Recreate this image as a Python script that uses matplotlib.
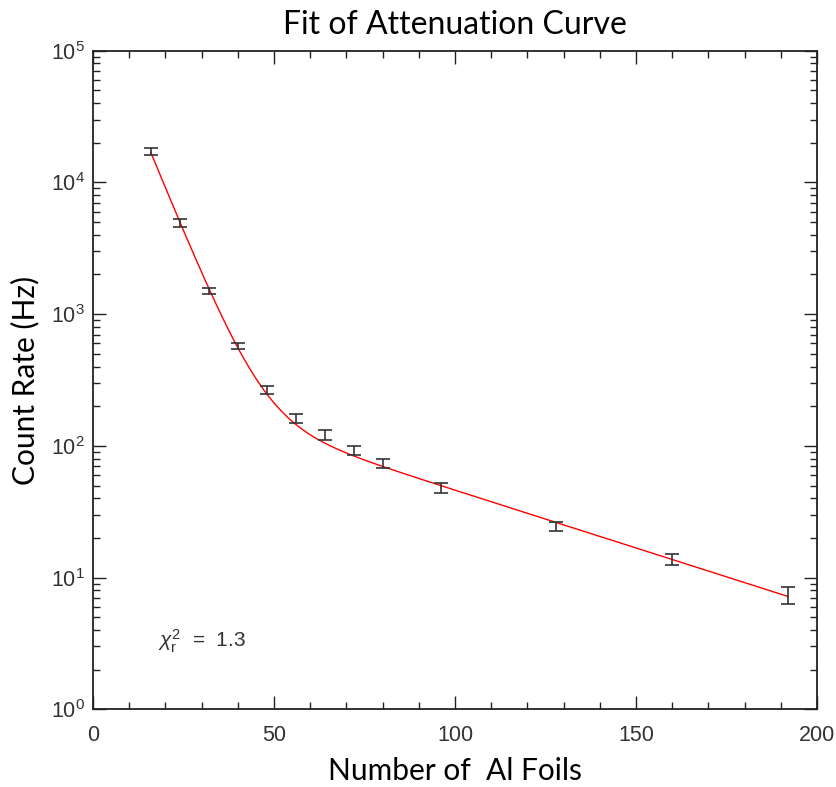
import numpy as np
import matplotlib
matplotlib.use("Agg")
import matplotlib.pyplot as plt
from matplotlib.ticker import LogLocator, MultipleLocator, FuncFormatter, NullFormatter

plt.rcParams["mathtext.fontset"] = "custom"
plt.rcParams["mathtext.rm"] = "Liberation Sans"
plt.rcParams["mathtext.it"] = "Liberation Sans:italic"
plt.rcParams["mathtext.default"] = "regular"

# Data
foils = np.array([16, 24, 32, 40, 48, 56, 64, 72, 80, 96, 128, 160, 192])
rate = np.array([17300, 4920, 1500, 573, 265, 163, 121, 93, 74, 47.9, 24.6, 13.8, 7.4])
rate_err = np.array([1100, 350, 80, 30, 18, 13, 10, 7.5, 6, 4, 2, 1.3, 1.1])

x_ticks = [0, 50, 100, 150, 200]
chi_label = r"$\mathit{\chi}^{2}_{r}$  =  1.3"

# Double-exponential fit by peeling (derived from the data)
tail = foils >= 80
s2, b2 = np.polyfit(foils[tail], np.log(rate[tail]), 1)
comp2 = np.exp(b2 + s2 * foils)
head = foils <= 40
resid = rate[head] - comp2[head]
s1, b1 = np.polyfit(foils[head], np.log(resid), 1)
xf = np.linspace(foils.min(), foils.max(), 400)
yf = np.exp(b1 + s1 * xf) + np.exp(b2 + s2 * xf)

fig = plt.figure(figsize=(8.37, 7.87), dpi=100)
ax = fig.add_axes([0.1111, 0.0987, 0.865, 0.8369])

ax.plot(xf, yf, color="red", lw=1.0)
ax.errorbar(foils, rate, yerr=rate_err, fmt="none", ecolor="#333333",
            elinewidth=1.2, capsize=5, capthick=1.2)

ax.set_yscale("log")
ax.set_xlim(0, 200)
ax.set_ylim(1, 1e5)
ax.set_xticks(x_ticks)
ax.xaxis.set_minor_locator(MultipleLocator(10))
ax.yaxis.set_major_locator(LogLocator(base=10, numticks=10))
ax.yaxis.set_minor_locator(LogLocator(base=10, subs=np.arange(2, 10), numticks=20))
ax.yaxis.set_major_formatter(FuncFormatter(lambda v, p: r"$10^{%d}$" % int(round(np.log10(v)))))
ax.yaxis.set_minor_formatter(NullFormatter())

ax.tick_params(which="both", direction="in", top=True, right=True, width=1.0, color="#222222",
               labelcolor="#333333")
ax.tick_params(which="major", length=9.5, labelsize=15.5)
ax.tick_params(axis="x", which="major", pad=11)
ax.tick_params(axis="y", which="major", pad=6)
ax.tick_params(which="minor", length=4.7)
for lab in ax.get_xticklabels() + ax.get_yticklabels():
    lab.set_family("Liberation Sans")
for sp in ax.spines.values():
    sp.set_linewidth(1.3)
    sp.set_color("#222222")

fam = ["Lato", "DejaVu Sans"]
ax.set_title("Fit of Attenuation Curve", fontsize=23, family=fam, pad=12)
ax.set_xlabel("Number of  Al Foils", fontsize=21.5, family=fam, labelpad=8)
ax.set_ylabel("Count Rate (Hz)", fontsize=21.5, family=fam, labelpad=8)

ax.text(18, 3.3, chi_label, fontsize=15, color="#333333", va="center", family="Liberation Sans")

fig.savefig("out.png", dpi=100)
